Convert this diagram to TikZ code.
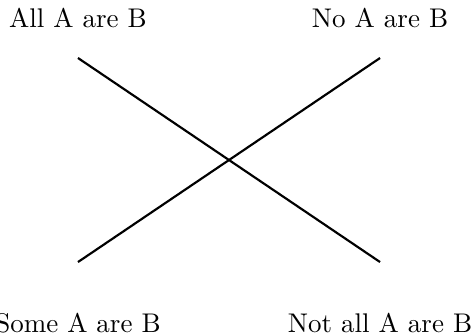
\documentclass[tikz,border=0pt]{standalone}
\usepackage{tikz}
\usetikzlibrary{positioning}

\begin{document}
\begin{tikzpicture}[transform shape]
        \useasboundingbox (0,0) rectangle (6.131,4.361);

        % Vertici del quadrato
        \coordinate (A) at (1.015,3.606);
        \coordinate (E) at (4.947,3.606);
        \coordinate (I) at (1.015,0.950);
        \coordinate (O) at (4.947,0.950);

        % Proposizioni
        \node[above=0.27cm of A] (lblA) {All A are B};
        \node[above=0.27cm of E] (lblE) {No A are B};
        \node[below=0.54cm of I] (lblI) {Some A are B};
        \node[below=0.54cm of O] (lblO) {Not all A are B};

        % Contraddittorie
        \draw[thick] (A) -- (O);
        \draw[thick] (E) -- (I);
    \end{tikzpicture}
\end{document}
